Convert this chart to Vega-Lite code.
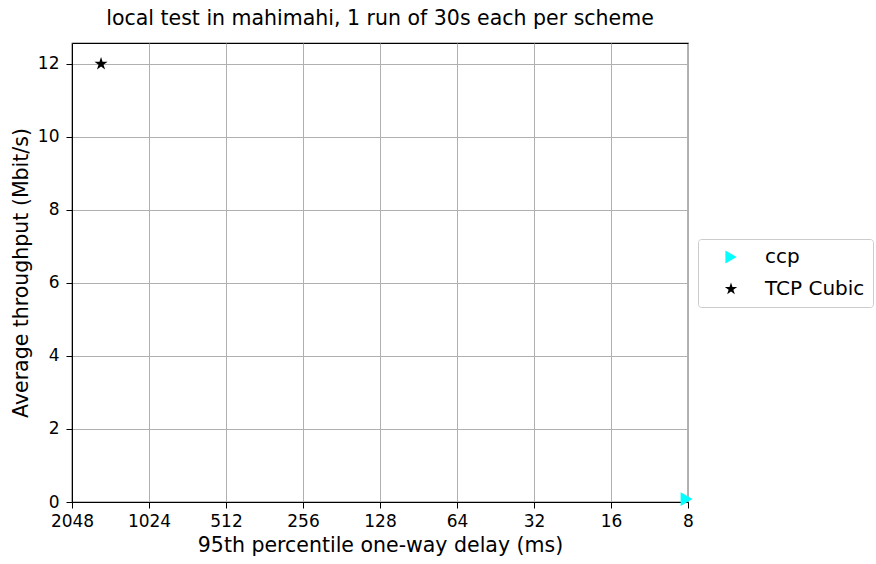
{
  "$schema": "https://vega.github.io/schema/vega-lite/v6.json",
  "autosize": "none",
  "width": 616,
  "height": 459,
  "padding": {"left": 72, "top": 43, "right": 188, "bottom": 62},
  "title": {"text": "local test in mahimahi, 1 run of 30s each per scheme", "fontSize": 20.5, "fontWeight": "normal", "font": "DejaVu Sans", "color": "#000000", "offset": 14, "anchor": "middle"},
  "config": {
    "view": {"stroke": "#000000", "strokeWidth": 1.2},
    "font": "DejaVu Sans",
    "axis": {
      "domainColor": "#000000", "tickColor": "#000000", "tickSize": 6,
      "labelColor": "#000000", "labelFontSize": 17, "labelFont": "DejaVu Sans",
      "titleColor": "#000000", "titleFontSize": 20.5, "titleFontWeight": "normal", "titleFont": "DejaVu Sans",
      "gridColor": "#b0b0b0", "gridWidth": 1, "gridOpacity": 1
    },
    "legend": {"labelFont": "DejaVu Sans"}
  },
  "data": {"values": [
    {"scheme": "ccp", "delay": 8.1, "tput": 0.08},
    {"scheme": "TCP Cubic", "delay": 1577, "tput": 12.0}
  ]},
  "mark": {"type": "point", "filled": true, "opacity": 1, "clip": false, "size": 190},
  "encoding": {
    "x": {"field": "delay", "type": "quantitative", "title": "95th percentile one-way delay (ms)",
      "scale": {"type": "log", "base": 2, "domain": [8, 2048], "reverse": true, "nice": false},
      "axis": {"values": [8, 16, 32, 64, 128, 256, 512, 1024, 2048], "format": "d", "labelPadding": 5, "titlePadding": 6, "labelFlush": false}},
    "y": {"field": "tput", "type": "quantitative", "title": "Average throughput (Mbit/s)",
      "scale": {"domain": [0, 12.575], "nice": false, "zero": false},
      "axis": {"values": [0, 2, 4, 6, 8, 10, 12], "labelPadding": 7, "titlePadding": 6}},
    "shape": {"field": "scheme", "type": "nominal", "sort": ["ccp", "TCP Cubic"],
      "scale": {"domain": ["ccp", "TCP Cubic"], "range": ["triangle-right", "M0,-1L0.2245,-0.309L0.951,-0.309L0.363,0.118L0.588,0.809L0,0.382L-0.588,0.809L-0.363,0.118L-0.951,-0.309L-0.2245,-0.309Z"]},
      "legend": {"title": null, "orient": "none", "legendX": 626, "legendY": 196, "strokeColor": "#cccccc", "cornerRadius": 3, "padding": 8, "symbolOffset": 15, "labelOffset": 24, "labelFontSize": 20, "labelColor": "#000000", "rowPadding": 12, "symbolSize": 170, "fillColor": "#ffffff"}},
    "color": {"field": "scheme", "type": "nominal", "sort": ["ccp", "TCP Cubic"],
      "scale": {"domain": ["ccp", "TCP Cubic"], "range": ["#00ffff", "#000000"]},
      "legend": {"title": null, "orient": "none", "legendX": 626, "legendY": 196, "strokeColor": "#cccccc", "cornerRadius": 3, "padding": 8, "symbolOffset": 15, "labelOffset": 24, "labelFontSize": 20, "labelColor": "#000000", "rowPadding": 12, "symbolSize": 170, "fillColor": "#ffffff"}}
  }
}
